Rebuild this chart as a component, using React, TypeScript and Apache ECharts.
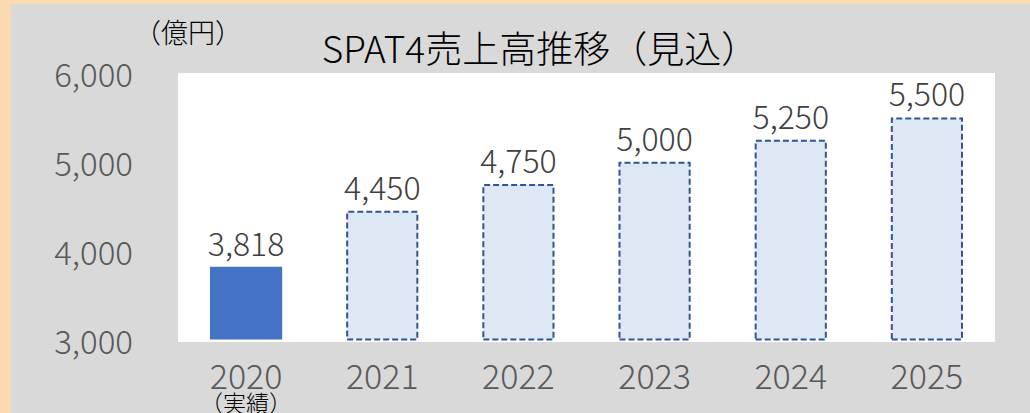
import React, { useEffect, useRef } from "react";
import * as echarts from "echarts";

const categories = ["2020", "2021", "2022", "2023", "2024", "2025"];
const values = [3818, 4450, 4750, 5000, 5250, 5500];
const actualFlags = [true, false, false, false, false, false];
const yTicks = { min: 3000, max: 6000, interval: 1000 };
const titleText = "SPAT4売上高推移（見込）";
const unitText = "（億円）";
const actualNote = "（実績）";

const FONT = "'Noto Sans CJK JP', 'Noto Sans', sans-serif";

export default function App() {
  const ref = useRef<HTMLDivElement>(null);
  useEffect(() => {
    if (!ref.current) return;
    const chart = echarts.init(ref.current, undefined, { renderer: "svg" });
    chart.setOption({
      animation: false,
      backgroundColor: "#fadbb0",
      textStyle: { fontFamily: FONT },
      graphic: [
        {
          type: "rect",
          z: -10,
          shape: { x: 11, y: 4, width: 1030, height: 420 },
          style: { fill: "#d9d9d9" },
          silent: true,
        },
        {
          type: "rect",
          z: -9,
          shape: { x: 178, y: 73, width: 817, height: 269 },
          style: { fill: "#ffffff" },
          silent: true,
        },
        {
          type: "text",
          x: 188,
          y: 31,
          style: {
            text: unitText,
            fontFamily: FONT,
            fontSize: 27,
            fontWeight: 300,
            fill: "#000000",
            textAlign: "center",
            textVerticalAlign: "middle",
          },
        },
        {
          type: "text",
          x: 540,
          y: 47,
          style: {
            text: titleText,
            fontFamily: FONT,
            fontSize: 37,
            fontWeight: 300,
            fill: "#000000",
            textAlign: "center",
            textVerticalAlign: "middle",
          },
        },
      ],
      grid: { left: 178, top: 73, width: 817, height: 269, containLabel: false },
      xAxis: {
        type: "category",
        data: categories,
        axisLine: { show: false },
        axisTick: { show: false },
        axisLabel: {
          interval: 0,
          margin: 18,
          color: "#595959",
          fontSize: 34,
          fontWeight: 300,
          fontFamily: FONT,
          lineHeight: 34,
          formatter: (v: string, i: number) =>
            actualFlags[i] ? `${v}\n{note|${actualNote}}` : v,
          rich: {
            note: { fontSize: 23, fontWeight: 300, lineHeight: 20, color: "#000000", fontFamily: FONT },
          },
        },
      },
      yAxis: {
        type: "value",
        min: yTicks.min,
        max: yTicks.max,
        interval: yTicks.interval,
        axisLine: { show: false },
        axisTick: { show: false },
        splitLine: { show: false },
        axisLabel: {
          margin: 45,
          color: "#595959",
          fontSize: 33,
          fontWeight: 300,
          fontFamily: FONT,
          formatter: (v: number) => v.toLocaleString("en-US"),
        },
      },
      series: [
        {
          type: "bar",
          barWidth: "53%",
          data: values.map((v, i) => ({
            value: v,
            itemStyle: actualFlags[i]
              ? { color: "#4472c4" }
              : {
                  color: "#dee8f5",
                  borderColor: "#2f5597",
                  borderWidth: 2,
                  borderType: [6, 3],
                },
          })),
          label: {
            show: true,
            position: "top",
            distance: 9,
            color: "#404040",
            fontSize: 32,
            fontWeight: 300,
            fontFamily: FONT,
            formatter: (p: any) => Number(p.value).toLocaleString("en-US"),
          },
        },
      ],
    });
    return () => chart.dispose();
  }, []);
  return (
    <div
      ref={ref}
      style={{ position: "fixed", left: 0, top: 0, width: 1030, height: 413 }}
    />
  );
}
